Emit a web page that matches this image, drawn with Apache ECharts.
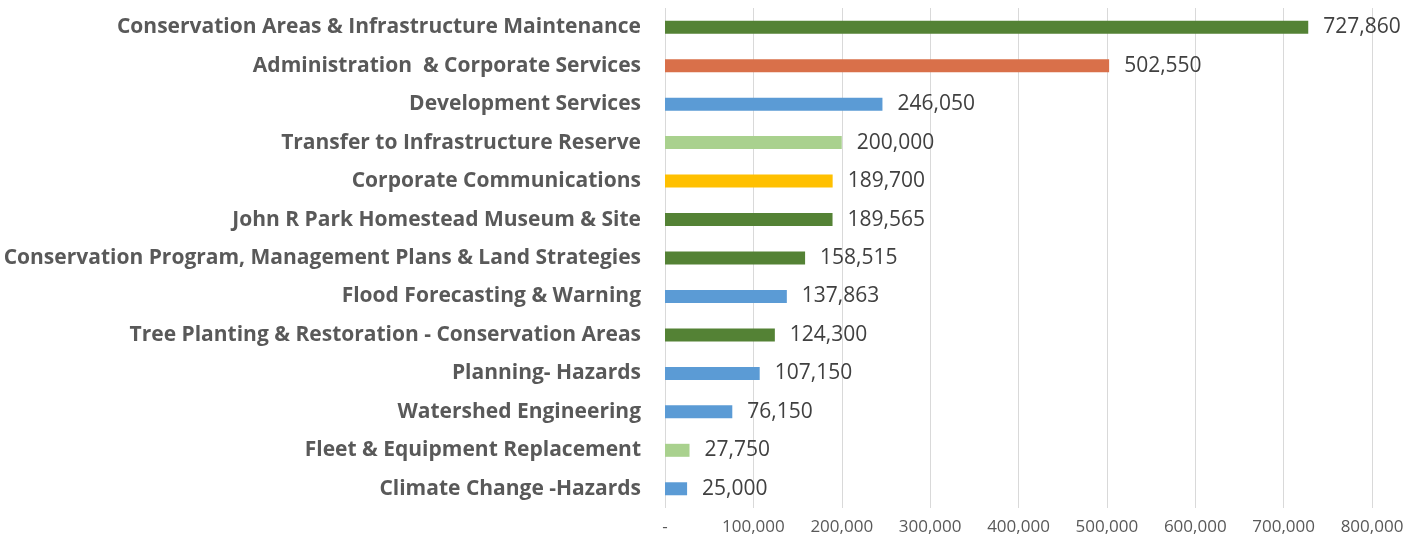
<!DOCTYPE html>
<html>
<head>
<meta charset="utf-8">
<script src="https://cdn.jsdelivr.net/npm/echarts@6/dist/echarts.min.js"></script>
<style>
  html, body { margin: 0; padding: 0; background: #fff; }
  #main { width: 1424px; height: 546px; }
</style>
</head>
<body>
<div id="main"></div>
<script>
// budget items, top to bottom
var categories = [
  "Conservation Areas & Infrastructure Maintenance",
  "Administration  & Corporate Services",
  "Development Services",
  "Transfer to Infrastructure Reserve",
  "Corporate Communications",
  "John R Park Homestead Museum & Site",
  "Conservation Program, Management Plans & Land Strategies",
  "Flood Forecasting & Warning",
  "Tree Planting & Restoration - Conservation Areas",
  "Planning- Hazards",
  "Watershed Engineering",
  "Fleet & Equipment Replacement",
  "Climate Change -Hazards"
];
var values = [727860, 502550, 246050, 200000, 189700, 189565, 158515, 137863, 124300, 107150, 76150, 27750, 25000];
var barColors = ["#548235", "#D9704A", "#5B9BD5", "#A9D18E", "#FFC000", "#548235", "#548235",
  "#5B9BD5", "#548235", "#5B9BD5", "#5B9BD5", "#A9D18E", "#5B9BD5"];

var myChart = echarts.init(document.getElementById('main'));

function fmt(v) {
  if (v === 0) return '-';
  return v.toString().replace(/\B(?=(\d{3})+(?!\d))/g, ',');
}

var option = {
  animation: false,
  grid: { left: 665, right: 52, top: 8, bottom: 38, containLabel: false },
  xAxis: {
    type: 'value',
    min: 0,
    max: 800000,
    interval: 100000,
    axisLine: { show: false },
    axisTick: { show: false },
    splitLine: { lineStyle: { color: '#d9d9d9', width: 1 } },
    axisLabel: {
      formatter: fmt,
      color: '#595959',
      fontFamily: 'Open Sans',
      fontSize: 17,
      margin: 11
    }
  },
  yAxis: {
    type: 'category',
    inverse: true,
    data: categories,
    axisLine: { show: false },
    axisTick: { show: false },
    axisLabel: {
      color: '#595959',
      fontFamily: 'Open Sans',
      fontWeight: 'bold',
      fontSize: 21,
      margin: 24
    }
  },
  series: [{
    type: 'bar',
    barWidth: 13,
    data: values.map(function (v, i) {
      return { value: v, itemStyle: { color: barColors[i] } };
    }),
    label: {
      show: true,
      position: 'right',
      distance: 15,
      color: '#404040',
      fontFamily: 'Open Sans',
      fontSize: 21,
      formatter: function (p) { return fmt(p.value); }
    }
  }]
};

myChart.setOption(option);
</script>
</body>
</html>
